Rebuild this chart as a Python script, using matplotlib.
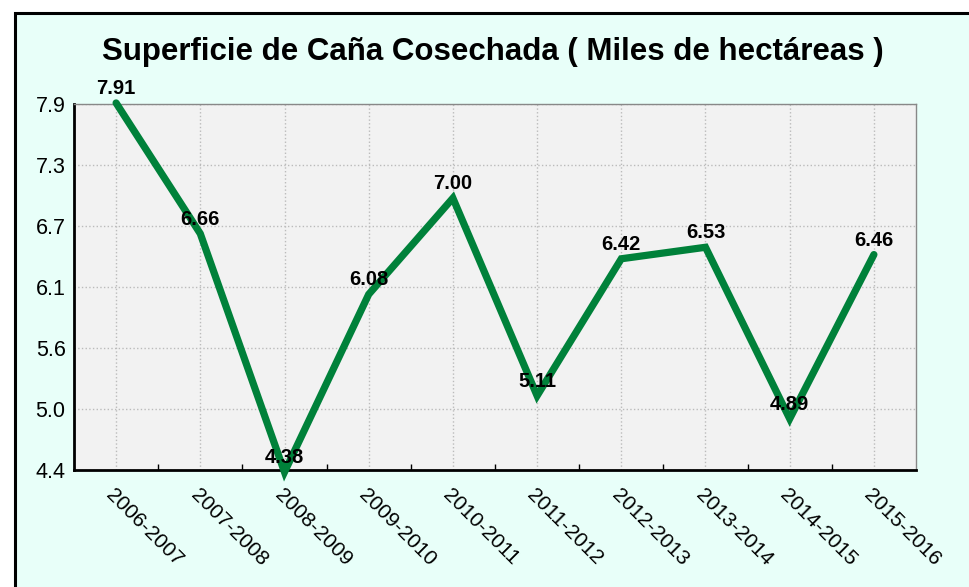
import numpy as np
import matplotlib.pyplot as plt
from matplotlib.patches import Rectangle
from matplotlib.ticker import FixedLocator

plt.rcParams['font.family'] = ['Liberation Sans', 'DejaVu Sans']

# data
seasons = ["2006-2007", "2007-2008", "2008-2009", "2009-2010", "2010-2011",
           "2011-2012", "2012-2013", "2013-2014", "2014-2015", "2015-2016"]
hectares = [7.91, 6.66, 4.38, 6.08, 7.00, 5.11, 6.42, 6.53, 4.89, 6.46]
y_ticks = [4.4, 4.9833, 5.5667, 6.15, 6.7333, 7.3167, 7.9]
y_tick_labels = ["4.4", "5.0", "5.6", "6.1", "6.7", "7.3", "7.9"]
title = "Superficie de Caña Cosechada ( Miles de hectáreas )"

fig = plt.figure(figsize=(9.7, 5.87), dpi=100)
fig.patch.set_facecolor('white')
W, H = 970, 587

# outer cyan frame, cut off at right and bottom like the reference
bg = fig.add_axes([0, 0, 1, 1], zorder=-10)
bg.set_xlim(0, W)
bg.set_ylim(H, 0)
bg.axis('off')
bg.add_patch(Rectangle((15, 13), W, H, facecolor='#E8FFF9',
                       edgecolor='black', linewidth=2.2))

ax = fig.add_axes([74 / W, 1 - 470 / H, (916 - 74) / W, (470 - 104) / H])
ax.set_facecolor('#F2F2F2')

x = np.arange(len(seasons))
ax.plot(x, hectares, color='#00813A', linewidth=5.2, solid_capstyle='round',
        solid_joinstyle='miter', zorder=3, clip_on=False)

for xi, v in zip(x, hectares):
    ax.annotate(f"{v:.2f}", (xi, v), xytext=(0, 3.5), textcoords='offset points',
                ha='center', va='bottom', fontsize=14.5, fontweight='bold',
                color='black', zorder=4, annotation_clip=False)

ax.set_xlim(-0.5, len(seasons) - 0.5)
ax.set_ylim(4.4, 7.9)

ax.set_xticks(x)
ax.set_xticklabels(seasons, rotation=-45, ha='left', rotation_mode='anchor',
                   fontsize=15)
ax.xaxis.set_minor_locator(FixedLocator(x[:-1] + 0.5))
ax.tick_params(axis='x', which='major', length=0, pad=11)
ax.tick_params(axis='x', which='minor', direction='in', length=4, width=1)

ax.set_yticks(y_ticks)
ax.set_yticklabels(y_tick_labels, fontsize=15.5)
ax.tick_params(axis='y', length=0, pad=6)

ax.grid(True, which='major', color='#BBBBBB', linestyle=':', linewidth=1)
ax.set_axisbelow(True)

for side in ('left', 'bottom'):
    ax.spines[side].set_color('black')
    ax.spines[side].set_linewidth(2)
for side in ('top', 'right'):
    ax.spines[side].set_color('#888888')
    ax.spines[side].set_linewidth(1)

fig.text(493 / W, 1 - 52 / H, title, ha='center', va='center',
         fontsize=22.5, fontweight='bold')

fig.savefig('out.png', dpi=100)
